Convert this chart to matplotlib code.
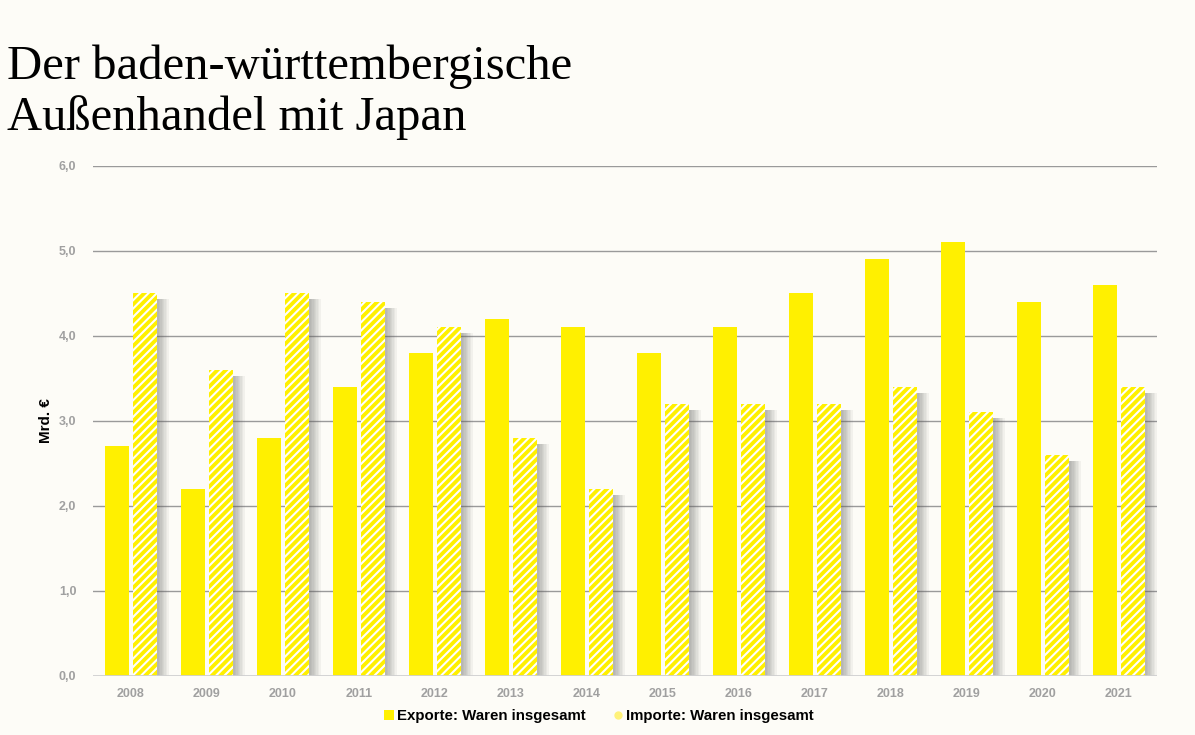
import matplotlib.pyplot as plt
import matplotlib.patheffects as pe
from matplotlib.lines import Line2D
import numpy as np

plt.rcParams.update({
    "figure.facecolor": "#fdfcf7",
    "axes.facecolor": "#fdfcf7",
    "font.family": ["Liberation Sans", "DejaVu Sans"],
    "hatch.linewidth": 1.5,
})

years = ["2008", "2009", "2010", "2011", "2012", "2013", "2014",
         "2015", "2016", "2017", "2018", "2019", "2020", "2021"]
exporte = [2.7, 2.2, 2.8, 3.4, 3.8, 4.2, 4.1, 3.8, 4.1, 4.5, 4.9, 5.1, 4.4, 4.6]
importe = [4.5, 3.6, 4.5, 4.4, 4.1, 2.8, 2.2, 3.2, 3.2, 3.2, 3.4, 3.1, 2.6, 3.4]
yticks = [0, 1, 2, 3, 4, 5, 6]
ytick_labels = ["0,0", "1,0", "2,0", "3,0", "4,0", "5,0", "6,0"]

yellow = "#fff000"

fig = plt.figure(figsize=(11.95, 7.35), dpi=100)
ax = fig.add_axes([0.0778, 0.0803, 0.8904, 0.6939])

x = np.arange(len(years))
w = 0.316
off = 0.19

ax.bar(x - off, exporte, w, color=yellow, linewidth=0, zorder=3)

# soft grey shadow only behind the import bars (drawn from plain bars, shadow only)
shadow = [pe.SimplePatchShadow(offset=(k, -4), shadow_rgbFace="#606060", alpha=0.065)
          for k in (8, 7, 6, 5, 4, 3, 2, 1)]
sh = ax.bar(x + off, importe, w, color=yellow, linewidth=0, zorder=2)
for b in sh:
    b.set_path_effects(shadow)
ax.bar(x + off, importe, w, color=yellow, edgecolor="white", hatch="////",
       linewidth=0, zorder=3)

ax.set_xlim(-0.5, len(years) - 0.5)
ax.set_ylim(0, 6)
ax.set_yticks(yticks)
ax.set_yticklabels(ytick_labels)
ax.set_xticks(x)
ax.set_xticklabels(years)
ax.tick_params(axis="both", length=0, labelsize=9, labelcolor="#a0a0a0")
ax.tick_params(axis="y", pad=12)
ax.tick_params(axis="x", pad=9)
for lbl in ax.get_xticklabels() + ax.get_yticklabels():
    lbl.set_fontweight("bold")

for t in yticks[1:]:
    ax.axhline(t, color="#9a9a9a", linewidth=1, zorder=1)
ax.axhline(0, color="#d0d0d0", linewidth=2, zorder=4)
for s in ax.spines.values():
    s.set_visible(False)

ax.set_ylabel("Mrd. €", fontsize=11, fontweight="bold", color="black", labelpad=4)

handles = [
    Line2D([], [], marker="s", linestyle="none", markersize=7, markerfacecolor=yellow,
           markeredgewidth=0),
    Line2D([], [], marker="o", linestyle="none", markersize=6, markerfacecolor="#fff27a",
           markeredgewidth=0),
]
fig.legend(handles, ["Exporte: Waren insgesamt", "Importe: Waren insgesamt"],
           loc="center", bbox_to_anchor=(0.5, 0.026), ncol=2, frameon=False,
           prop={"size": 10.8, "weight": "bold"}, handletextpad=0.05, columnspacing=1.6,
           handlelength=1.0)

fig.text(0.006, 0.94, "Der baden-württembergische\nAußenhandel mit Japan",
         fontsize=35, family="Liberation Serif", color="black", va="top",
         linespacing=1.2)

plt.savefig("out.png", dpi=100, facecolor=fig.get_facecolor())
plt.close()
